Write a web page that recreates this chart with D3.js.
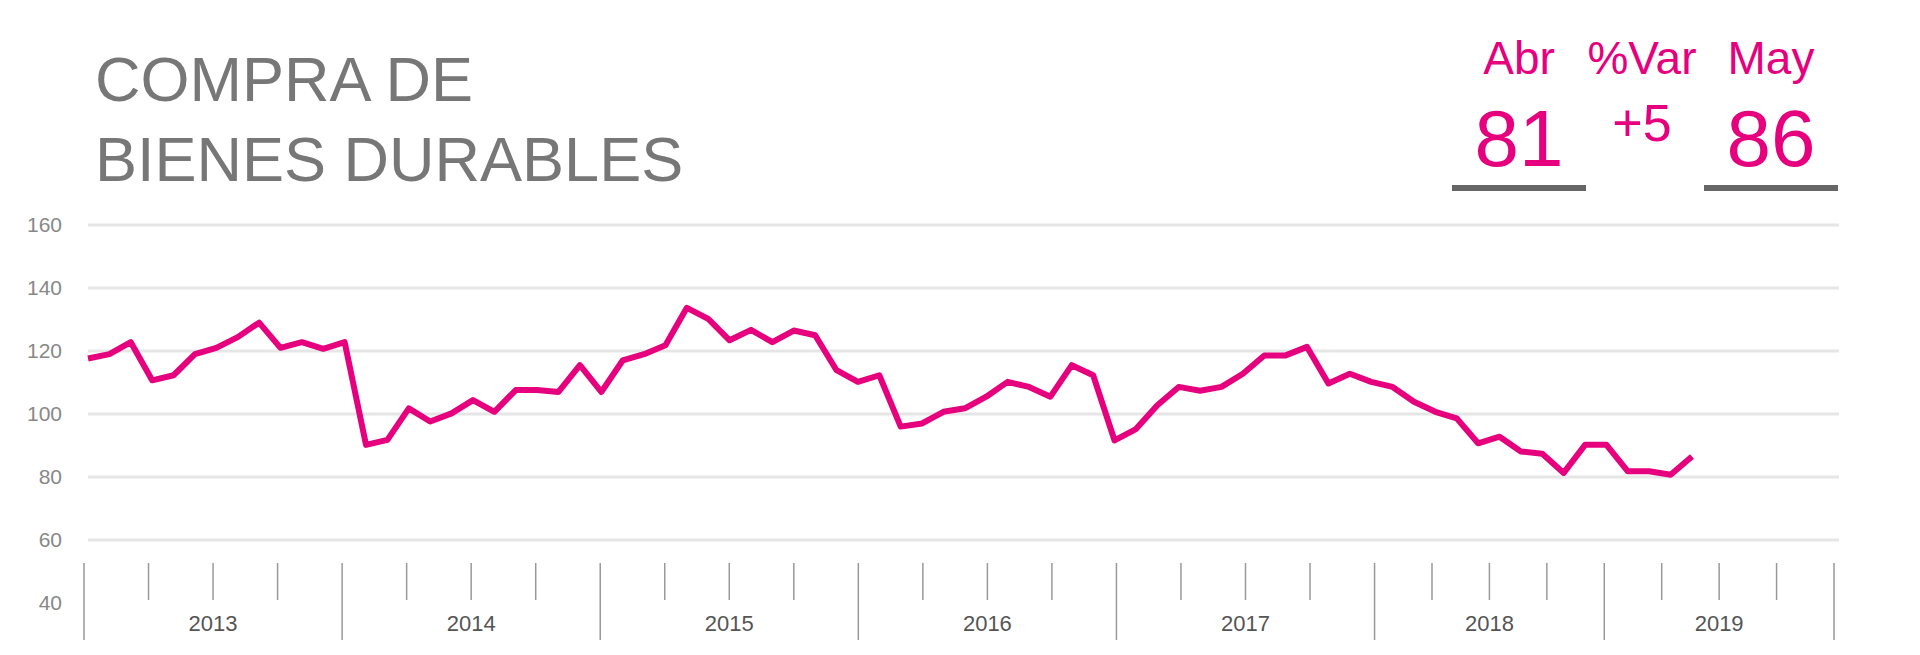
<!DOCTYPE html>
<html><head><meta charset="utf-8">
<script src="https://cdn.jsdelivr.net/npm/d3@7"></script>
<style>body{margin:0;background:#fff}svg{display:block}</style>
</head><body>
<script>
// monthly index, Feb 2013 .. May 2019
const values = [
  117.6, 119, 122.8, 110.7, 112.3, 119, 121, 124.4, 129, 121, 122.8, 120.7,
  122.8, 90.2, 91.8, 101.8, 97.6, 100.2, 104.4, 100.7, 107.6, 107.6, 107, 115.5,
  107, 117, 119, 121.8, 133.7, 130.2, 123.4, 126.7, 122.8, 126.5, 125, 113.9,
  110.2, 112.3, 96, 97, 100.7, 101.8, 105.5, 110.2, 108.6, 105.5, 115.5, 112.3,
  91.6, 95.2, 102.8, 108.6, 107.4, 108.6, 112.8, 118.6, 118.6, 121.3, 109.7, 112.8,
  110.2, 108.6, 103.9, 100.7, 98.6, 90.7, 92.8, 88.1, 87.4, 81.3, 90.2, 90.2,
  81.8, 81.8, 80.7, 86.5
];
const yTicks = [40, 60, 80, 100, 120, 140, 160];
const gridTicks = [60, 80, 100, 120, 140, 160];
const years = ['2013', '2014', '2015', '2016', '2017', '2018', '2019'];
// axis band edges, in year units (last two bands narrower as in the source)
const yearEdges = [0, 1, 2, 3, 4, 5, 5.89, 6.78];
const headLabels = ['Abr', '%Var', 'May'];
const headValues = ['81', '+5', '86'];

const W = 1920, H = 655;
const pink = '#e6007e';
const svg = d3.select('body').append('svg').attr('width', W).attr('height', H);

const y = d3.scaleLinear().domain([40, 160]).range([603, 225]);
const x = d3.scaleLinear().domain([0, values.length - 1]).range([88, 1692]);
const xa = d3.scaleLinear().domain([0, 6.78]).range([84, 1834]);

// title
svg.append('g').selectAll('text').data(['COMPRA DE', 'BIENES DURABLES']).join('text')
  .attr('x', 95).attr('y', (d, i) => 101 + i * 80)
  .attr('font-family', 'Liberation Sans, Arial, sans-serif')
  .attr('font-size', 63).attr('fill', '#777').text(d => d);

// gridlines
svg.append('g').selectAll('line').data(gridTicks).join('line')
  .attr('x1', 88).attr('x2', 1839)
  .attr('y1', d => y(d)).attr('y2', d => y(d))
  .attr('stroke', '#e6e6e6').attr('stroke-width', 3);

svg.append('g').selectAll('text').data(yTicks).join('text')
  .attr('x', 62).attr('y', d => y(d) + 7).attr('text-anchor', 'end')
  .attr('font-family', 'Liberation Sans, Arial, sans-serif')
  .attr('font-size', 21).attr('fill', '#888').text(d => d);

// category axis
const ax = svg.append('g').attr('stroke', '#999').attr('stroke-width', 1.5);
yearEdges.forEach((e, i) => {
  ax.append('line').attr('x1', xa(e)).attr('x2', xa(e)).attr('y1', 563).attr('y2', 640);
  if (i < yearEdges.length - 1) {
    const w = yearEdges[i + 1] - e;
    [1, 2, 3].forEach(q => {
      const px = xa(e + w * q / 4);
      ax.append('line').attr('x1', px).attr('x2', px).attr('y1', 563).attr('y2', 600);
    });
  }
});
svg.append('g').selectAll('text').data(years).join('text')
  .attr('x', (d, i) => xa((yearEdges[i] + yearEdges[i + 1]) / 2))
  .attr('y', 631).attr('text-anchor', 'middle')
  .attr('font-family', 'Liberation Sans, Arial, sans-serif')
  .attr('font-size', 22).attr('fill', '#555').text(d => d);

// series
svg.append('path').datum(values)
  .attr('fill', 'none').attr('stroke', pink).attr('stroke-width', 6)
  .attr('stroke-linejoin', 'round')
  .attr('d', d3.line().x((d, i) => x(i)).y(d => y(d)));

// header figures
const hx = [1519, 1642, 1771];
svg.append('g').selectAll('text').data(headLabels).join('text')
  .attr('x', (d, i) => hx[i]).attr('y', 74).attr('text-anchor', 'middle')
  .attr('font-family', 'Liberation Sans, Arial, sans-serif')
  .attr('font-size', 46).attr('fill', pink).text(d => d);
svg.append('g').selectAll('text').data(headValues).join('text')
  .attr('x', (d, i) => hx[i]).attr('y', (d, i) => i === 1 ? 141 : 166)
  .attr('text-anchor', 'middle')
  .attr('font-family', 'Liberation Sans, Arial, sans-serif')
  .attr('font-size', (d, i) => i === 1 ? 52 : 80).attr('fill', pink).text(d => d);
svg.append('g').selectAll('line').data([0, 2]).join('line')
  .attr('x1', i => hx[i] - 67).attr('x2', i => hx[i] + 67)
  .attr('y1', 188).attr('y2', 188)
  .attr('stroke', '#666').attr('stroke-width', 6);
</script>
</body></html>
